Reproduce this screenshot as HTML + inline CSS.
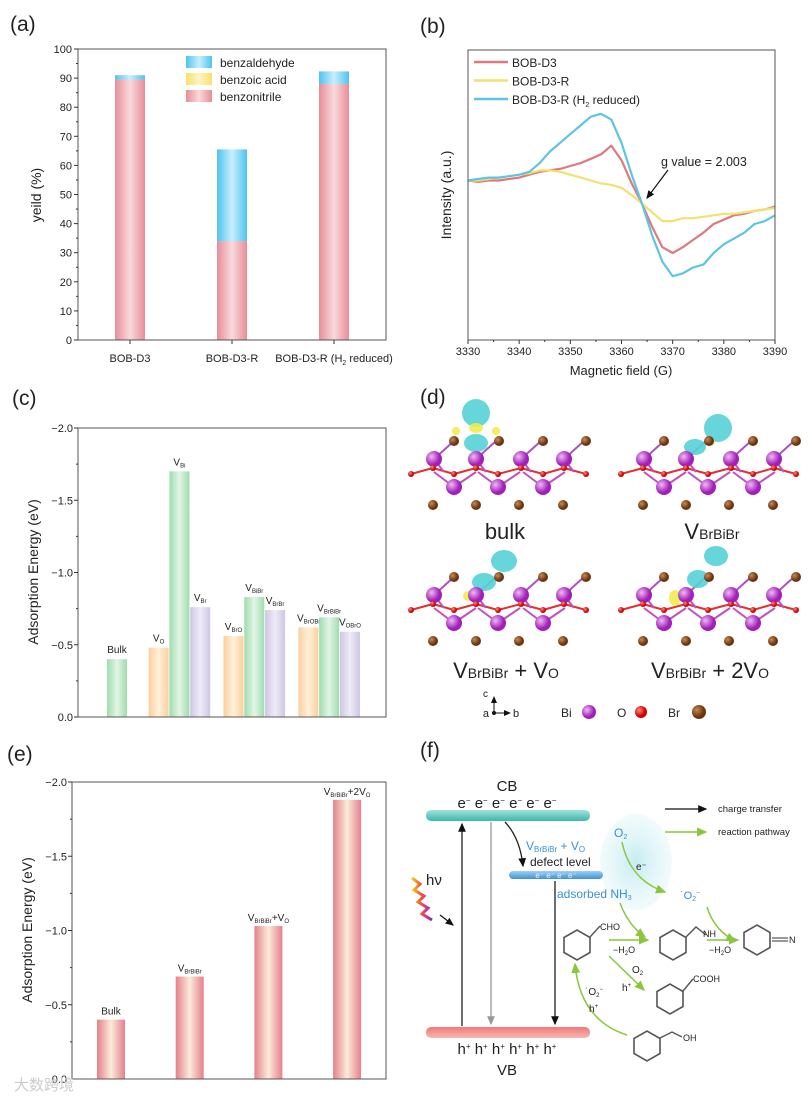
<!DOCTYPE html>
<html><head><meta charset="utf-8"><style>
body{margin:0;background:#fff}
svg{display:block;font-family:"Liberation Sans","Noto Sans CJK SC",sans-serif}
</style></head><body>
<svg id="fig" width="812" height="1104" viewBox="0 0 812 1104">
<defs>
<linearGradient id="gPink" x1="0" x2="1"><stop offset="0" stop-color="#e78d97"/><stop offset="0.5" stop-color="#f8dadd"/><stop offset="1" stop-color="#e78d97"/></linearGradient>
<linearGradient id="gBlue" x1="0" x2="1"><stop offset="0" stop-color="#4cc4ef"/><stop offset="0.5" stop-color="#c9eefc"/><stop offset="1" stop-color="#4cc4ef"/></linearGradient>
<linearGradient id="gYel" x1="0" x2="1"><stop offset="0" stop-color="#f6e06a"/><stop offset="0.5" stop-color="#fdf5c4"/><stop offset="1" stop-color="#f6e06a"/></linearGradient>
<linearGradient id="gGreen" x1="0" x2="1"><stop offset="0" stop-color="#9fdcae"/><stop offset="0.5" stop-color="#e2f6e6"/><stop offset="1" stop-color="#9fdcae"/></linearGradient>
<linearGradient id="gOrange" x1="0" x2="1"><stop offset="0" stop-color="#fbcf9f"/><stop offset="0.5" stop-color="#fff1d9"/><stop offset="1" stop-color="#fbcf9f"/></linearGradient>
<linearGradient id="gPurple" x1="0" x2="1"><stop offset="0" stop-color="#cfc6e4"/><stop offset="0.5" stop-color="#efebf7"/><stop offset="1" stop-color="#cfc6e4"/></linearGradient>
<linearGradient id="gE" x1="0" x2="1"><stop offset="0" stop-color="#e57f8c"/><stop offset="0.5" stop-color="#fbecd9"/><stop offset="1" stop-color="#e57f8c"/></linearGradient>
<linearGradient id="gCB" x1="0" y1="0" x2="0" y2="1"><stop offset="0" stop-color="#9fe3dc"/><stop offset="1" stop-color="#3fb6ac"/></linearGradient>
<linearGradient id="gVB" x1="0" y1="0" x2="0" y2="1"><stop offset="0" stop-color="#f07a78"/><stop offset="1" stop-color="#f6b6b2"/></linearGradient>
<linearGradient id="gDL" x1="0" y1="0" x2="0" y2="1"><stop offset="0" stop-color="#9fd0f3"/><stop offset="1" stop-color="#3f92d6"/></linearGradient>
<linearGradient id="gHv" x1="0" x2="1"><stop offset="0" stop-color="#f5d020"/><stop offset="0.4" stop-color="#f0602a"/><stop offset="0.7" stop-color="#e0308a"/><stop offset="1" stop-color="#6a3aa8"/></linearGradient>
<radialGradient id="gBlob"><stop offset="0" stop-color="#c6ecf2"/><stop offset="1" stop-color="#eaf8fa" stop-opacity="0.6"/></radialGradient>
<radialGradient id="gBi" cx="0.35" cy="0.35"><stop offset="0" stop-color="#f2b8f5"/><stop offset="1" stop-color="#a020b8"/></radialGradient>
<radialGradient id="gO" cx="0.35" cy="0.35"><stop offset="0" stop-color="#ff8a80"/><stop offset="1" stop-color="#d00000"/></radialGradient>
<radialGradient id="gBr" cx="0.35" cy="0.35"><stop offset="0" stop-color="#c88a55"/><stop offset="1" stop-color="#6a3510"/></radialGradient>
<marker id="mk" markerWidth="8" markerHeight="8" refX="6" refY="3" orient="auto"><path d="M0,0 L7,3 L0,6 Z" fill="#111"/></marker>
<marker id="mkG" markerWidth="8" markerHeight="8" refX="6" refY="3" orient="auto"><path d="M0,0 L7,3 L0,6 Z" fill="#8cc63f"/></marker>
<marker id="mkGr" markerWidth="8" markerHeight="8" refX="6" refY="3" orient="auto"><path d="M0,0 L7,3 L0,6 Z" fill="#999"/></marker>
</defs>
<g id="pa"></g>
<g id="pb"></g>
<g id="pc"></g>
<g id="pd"></g>
<g id="pe"></g>
<g id="pf"></g>
<text x="14" y="1090" font-size="15" fill="#ccc">大数跨境</text>
</svg>
<script>
// ---- panel a data ----
const aCats = ["BOB-D3", "BOB-D3-R", "BOB-D3-R (H2 reduced)"];
const aNitrile = [89.5, 34, 88];
const aBenzoic = [0, 0, 0];
const aAldehyde = [1.5, 31.5, 4.3];
const aTicks = [0,10,20,30,40,50,60,70,80,90,100];
// ---- panel b data ----
const bField = [3330,3332,3334,3336,3338,3340,3342,3344,3346,3348,3350,3352,3354,3356,3358,3360,3362,3364,3366,3368,3370,3372,3374,3376,3378,3380,3382,3384,3386,3388,3390];
const bD3 = [55,54.5,55,55,55.5,56,57,58,58.5,59,60,61,62.5,64,67,62,54,47,39,32,30,32,34.5,37,40,41.5,43,43.5,44.5,45,46];
const bD3R = [55,55,55.5,56,56.5,57,57.5,58.5,58.5,58,57,56,55,54,53.5,52.5,50,47,44,41,41,42,42,42.5,43,43.5,43.5,44,44.5,45,45.5];
const bD3RH2 = [55,55.5,56,56,56.5,57,58,61,65,68,71,74,77,78,76,68,57,47,36,27,22,23,25,26,30,33,35,37,40,41,43];
const bTicks = [3330,3340,3350,3360,3370,3380,3390];
// ---- panel c data ----
const cLabels = ["Bulk","V_O","V_Bi","V_Br","V_BrO","V_BiBr","V_BrBr","V_BrOBi","V_BrBiBr","V_OBrO"];
const cSlots = [1,3,4,5,6.6,7.6,8.6,10.2,11.2,12.2];
const cValues = [0.40,0.48,1.70,0.76,0.56,0.83,0.74,0.62,0.69,0.59];
const cColors = ["gGreen","gOrange","gGreen","gPurple","gOrange","gGreen","gPurple","gOrange","gGreen","gPurple"];
const cTicks = [0,0.5,1.0,1.5,2.0];
// ---- panel e data ----
const eLabels = ["Bulk","V_BrBiBr","V_BrBiBr+V_O","V_BrBiBr+2V_O"];
const eValues = [0.40,0.69,1.03,1.88];
const eTicks = [0,0.5,1.0,1.5,2.0];

const NS="http://www.w3.org/2000/svg";
function mk(tag, attrs, parent, name){
  const el=document.createElementNS(NS,tag);
  for(const k in attrs) el.setAttribute(k,attrs[k]);
  
  
  parent.appendChild(el); return el;
}
function txt(x,y,s,size,parent,name,anchor,fill,extra){
  const t=mk('text',Object.assign({x:x,y:y,'font-size':size,'text-anchor':anchor||'start',fill:fill||'#222'},extra||{}),parent,name);
  t.innerHTML=s; return t;
}
function sub(base,s,size){return base+'<tspan font-size="'+(size*0.6)+'" dy="3">'+s+'</tspan><tspan dy="-3"></tspan>';}

// ================= PANEL A =================
(function(){
  const g=document.getElementById('pa');
  const L=78,R=386,T=49,B=340;
  const y=v=>B-(v/100)*(B-T);
  const xc=i=>130+i*102;
  txt(10,31,'(a)',21,g,'panel-a-label');
  for(let i=0;i<3;i++){
    const w=30, x=xc(i)-w/2;
    let base=0;
    mk('rect',{x:x,y:y(aNitrile[i]),width:w,height:y(0)-y(aNitrile[i]),fill:'url(#gPink)'},g,'bar-benzonitrile');
    base=aNitrile[i];
    if(aBenzoic[i]>0) mk('rect',{x:x,y:y(base+aBenzoic[i]),width:w,height:y(base)-y(base+aBenzoic[i]),fill:'url(#gYel)'},g,'bar-benzoic-acid');
    base+=aBenzoic[i];
    mk('rect',{x:x,y:y(base+aAldehyde[i]),width:w,height:y(base)-y(base+aAldehyde[i]),fill:'url(#gBlue)'},g,'bar-benzaldehyde');
    mk('line',{x1:xc(i),x2:xc(i),y1:B,y2:B+4,stroke:'#333'},g,'x-tick');
    const lab=aCats[i]==="BOB-D3-R (H2 reduced)"?'BOB-D3-R (H<tspan font-size="7" dy="3">2</tspan><tspan dy="-3"> reduced)</tspan>':aCats[i];
    txt(xc(i),362,lab,11,g,'x-tick-label','middle');
  }
  mk('rect',{x:L,y:T,width:R-L,height:B-T,fill:'none',stroke:'#555','stroke-width':1},g,'plot-frame');
  aTicks.forEach(v=>{
    mk('line',{x1:L-4,x2:L,y1:y(v),y2:y(v),stroke:'#333'},g,'y-tick');
    txt(L-6,y(v)+4,v,11,g,'y-tick-label','end');
    if(v<100) mk('line',{x1:L-2,x2:L,y1:y(v+5),y2:y(v+5),stroke:'#333'},g,'y-minor-tick');
  });
  txt(0,0,'yeild (%)',14,g,'y-axis-title','middle','#222',{transform:'translate(41,195) rotate(-90)'});
  const leg=[['benzaldehyde','gBlue'],['benzoic acid','gYel'],['benzonitrile','gPink']];
  leg.forEach((d,i)=>{
    mk('rect',{x:186,y:56+i*17,width:26,height:12,fill:'url(#'+d[1]+')'},g,'legend-swatch');
    txt(220,67+i*17,d[0],12,g,'legend-entry');
  });
})();

// ================= PANEL B =================
(function(){
  const g=document.getElementById('pb');
  const L=468,R=775,T=50,B=340;
  const x=v=>L+(v-3330)/60*(R-L);
  const y=v=>B-v/100*(B-T);
  txt(420,33,'(b)',21,g,'panel-b-label');
  const ser=[[bD3,'#e07880','BOB-D3'],[bD3R,'#f2e070','BOB-D3-R'],[bD3RH2,'#5fc4e4','BOB-D3-R (H<tspan font-size="7" dy="3">2</tspan><tspan dy="-3"> reduced)</tspan>']];
  ser.forEach((s,k)=>{
    const d=bField.map((f,i)=>(i?'L':'M')+x(f).toFixed(1)+','+y(s[0][i]).toFixed(1)).join('');
    mk('path',{d:d,fill:'none',stroke:s[1],'stroke-width':2.2,'stroke-linejoin':'round'},g,'series-line');
    mk('line',{x1:474,x2:508,y1:62+k*18.5,y2:62+k*18.5,stroke:s[1],'stroke-width':2.5},g,'legend-line');
    txt(512,67+k*18.5,s[2],12,g,'legend-entry');
  });
  mk('rect',{x:L,y:T,width:R-L,height:B-T,fill:'none',stroke:'#555'},g,'plot-frame');
  bTicks.forEach(v=>{
    mk('line',{x1:x(v),x2:x(v),y1:B,y2:B+4,stroke:'#333'},g,'x-tick');
    txt(x(v),355,v,11,g,'x-tick-label','middle');
    if(v<3390) mk('line',{x1:x(v+5),x2:x(v+5),y1:B,y2:B+2,stroke:'#333'},g,'x-minor-tick');
  });
  txt(621,375,'Magnetic field (G)',13,g,'x-axis-title','middle');
  txt(0,0,'Intensity (a.u.)',14,g,'y-axis-title','middle','#222',{transform:'translate(451,195) rotate(-90)'});
  txt(661,166,'g value = 2.003',12.5,g,'g-value-annotation');
  mk('line',{x1:668,y1:170,x2:647,y2:198,stroke:'#111','stroke-width':1.2,'marker-end':'url(#mk)'},g,'annotation-arrow');
})();

// ================= PANEL C =================
(function(){
  const g=document.getElementById('pc');
  const L=78,R=386,T=428,B=717;
  const y=v=>B-v/2*(B-T);
  const x=s=>L+18+(s-1)*20.8+21;
  txt(12,405,'(c)',21,g,'panel-c-label');
  cValues.forEach((v,i)=>{
    const cx=x(cSlots[i]);
    mk('rect',{x:cx-10,y:y(v),width:20,height:B-y(v),fill:'url(#'+cColors[i]+')'},g,'bar-'+cLabels[i].toLowerCase().replace('_','-'));
    const p=cLabels[i].split('_');
    const lab=p.length>1?'V<tspan font-size="6" dy="2">'+p[1]+'</tspan>':p[0];
    txt(cx,y(v)-6,lab,10,g,'bar-label','middle');
  });
  mk('rect',{x:L,y:T,width:R-L,height:B-T,fill:'none',stroke:'#555'},g,'plot-frame');
  cTicks.forEach(v=>{
    mk('line',{x1:L-4,x2:L,y1:y(v),y2:y(v),stroke:'#333'},g,'y-tick');
    txt(L-5,y(v)+4,v===0?'0.0':'\u2212'+v.toFixed(1),11,g,'y-tick-label','end');
    if(v<2) mk('line',{x1:L-2,x2:L,y1:y(v+0.25),y2:y(v+0.25),stroke:'#333'},g,'y-minor-tick');
  });
  txt(0,0,'Adsorption Energy (eV)',14,g,'y-axis-title','middle','#222',{transform:'translate(38,572) rotate(-90)'});
})();

// ================= PANEL E =================
(function(){
  const g=document.getElementById('pe');
  const L=72,R=386,T=782,B=1079;
  const y=v=>B-v/2*(B-T);
  const x=i=>111+i*78.7;
  txt(7,761,'(e)',21,g,'panel-e-label');
  eValues.forEach((v,i)=>{
    mk('rect',{x:x(i)-14,y:y(v),width:28,height:B-y(v),fill:'url(#gE)'},g,'bar-'+i);
    let lab=eLabels[i];
    if(lab!=='Bulk'){
      lab='V<tspan font-size="6" dy="2">BrBiBr</tspan><tspan dy="-2">'+(lab.indexOf('+2')>0?'+2V<tspan font-size="6" dy="2">O</tspan>':lab.indexOf('+V')>0?'+V<tspan font-size="6" dy="2">O</tspan>':'')+'</tspan>';
    }
    txt(x(i),y(v)-5,lab,10,g,'bar-label','middle');
  });
  mk('rect',{x:L,y:T,width:R-L,height:B-T,fill:'none',stroke:'#555'},g,'plot-frame');
  eTicks.forEach(v=>{
    mk('line',{x1:L-4,x2:L,y1:y(v),y2:y(v),stroke:'#333'},g,'y-tick');
    txt(L-5,y(v)+4,v===0?'0.0':'\u2212'+v.toFixed(1),11,g,'y-tick-label','end');
    if(v<2) mk('line',{x1:L-2,x2:L,y1:y(v+0.25),y2:y(v+0.25),stroke:'#333'},g,'y-minor-tick');
  });
  txt(0,0,'Adsorption Energy (eV)',14,g,'y-axis-title','middle','#222',{transform:'translate(32,930) rotate(-90)'});
})();

// ================= PANEL D =================
(function(){
  const g=document.getElementById('pd');
  txt(420,404,'(d)',21,g,'panel-d-label');
  function structure(ox,oy,blobs,name){
    const s=mk('g',{transform:'translate('+ox+','+oy+')'},g,name);
    const brT=[454,499,543,586], biU=[434,476,521,564], biL=[454,498,543], brB=[433,476,519,563];
    const oX=[411,433,454,476,498,521,543,564,586];
    // bonds
    for(let i=0;i<oX.length-1;i++) mk('line',{x1:oX[i],y1:(i%2?468:474),x2:oX[i+1],y2:((i+1)%2?468:474),stroke:'#e03030','stroke-width':2},s,'bond');
    biU.forEach((bx,i)=>{mk('line',{x1:bx,y1:459,x2:bx+20,y2:441,stroke:'#b050c0','stroke-width':2},s,'bond');mk('line',{x1:bx,y1:459,x2:bx+10,y2:472,stroke:'#c050c0','stroke-width':2},s,'bond');});
    biL.forEach(bx=>{mk('line',{x1:bx,y1:487,x2:bx-20,y2:472,stroke:'#c050c0','stroke-width':2},s,'bond');mk('line',{x1:bx,y1:487,x2:bx+22,y2:472,stroke:'#c050c0','stroke-width':2},s,'bond');});
    blobs.forEach(b=>mk('ellipse',{cx:b[0],cy:b[1],rx:b[2],ry:b[3],fill:b[4]||'#55d2d6',opacity:0.9},s,'charge-density'));
    brT.forEach(bx=>mk('circle',{cx:bx,cy:441,r:5,fill:'url(#gBr)'},s,'br-atom'));
    biU.forEach(bx=>mk('circle',{cx:bx,cy:459,r:8,fill:'url(#gBi)'},s,'bi-atom'));
    oX.forEach((ox2,i)=>mk('circle',{cx:ox2,cy:(i%2?468:474),r:3,fill:'url(#gO)'},s,'o-atom'));
    biL.forEach(bx=>mk('circle',{cx:bx,cy:487,r:8,fill:'url(#gBi)'},s,'bi-atom'));
    brB.forEach(bx=>mk('circle',{cx:bx,cy:505,r:5,fill:'url(#gBr)'},s,'br-atom'));
  }
  structure(0,0,[[476,413,14,14],[476,443,12,9],[476,428,7,5,'#f0ec50'],[456,431,4,4,'#f0ec50'],[496,431,4,4,'#f0ec50']],'structure-bulk');
  structure(210,0,[[508,428,14,14],[485,447,11,8],[500,442,5,4,'#f0ec50']],'structure-vbrbibr');
  structure(0,136,[[504,425,13,11],[484,446,12,9],[468,460,5,5,'#f0ec50']],'structure-vbrbibr-vo');
  structure(210,136,[[506,420,12,10],[488,443,11,9],[465,462,6,8,'#f0ec50']],'structure-vbrbibr-2vo');
  txt(505,539,'bulk',22,g,'label-bulk','middle');
  txt(712,539,'V<tspan font-size="14">BrBiBr</tspan>',22,g,'label-vbrbibr','middle');
  txt(506,678,'V<tspan font-size="14">BrBiBr</tspan> + V<tspan font-size="14">O</tspan>',22,g,'label-vbrbibr-vo','middle');
  txt(710,678,'V<tspan font-size="14">BrBiBr</tspan> + 2V<tspan font-size="14">O</tspan>',22,g,'label-vbrbibr-2vo','middle');
  mk('line',{x1:494,y1:713,x2:494,y2:697,stroke:'#111','marker-end':'url(#mk)'},g,'axis-c');
  mk('line',{x1:494,y1:713,x2:510,y2:713,stroke:'#111','marker-end':'url(#mk)'},g,'axis-b');
  mk('circle',{cx:494,cy:713,r:2,fill:'#111'},g,'axis-a');
  txt(488,697,'c',10,g,'axis-c-label','end');
  txt(489,717,'a',11,g,'axis-a-label','end');
  txt(513,717,'b',11,g,'axis-b-label');
  txt(561,717,'Bi',12,g,'legend-bi');
  mk('circle',{cx:589,cy:712,r:7,fill:'url(#gBi)'},g,'legend-bi-atom');
  txt(617,717,'O',12,g,'legend-o');
  mk('circle',{cx:641,cy:712,r:6,fill:'url(#gO)'},g,'legend-o-atom');
  txt(668,717,'Br',12,g,'legend-br');
  mk('circle',{cx:699,cy:712,r:7,fill:'url(#gBr)'},g,'legend-br-atom');
})();

// ================= PANEL F =================
(function(){
  const g=document.getElementById('pf');
  txt(420,757,'(f)',21,g,'panel-f-label');
  function ring(cx,cy,r,name){
    let d='';for(let i=0;i<6;i++){const a=Math.PI/6+i*Math.PI/3;d+=(i?'L':'M')+(cx+r*Math.cos(a)).toFixed(1)+','+(cy+r*Math.sin(a)).toFixed(1);}
    mk('path',{d:d+'Z',fill:'none',stroke:'#555','stroke-width':1.6},g,name);
  }
  mk('ellipse',{cx:636,cy:862,rx:36,ry:48,fill:'url(#gBlob)'},g,'adsorption-region');
  mk('rect',{x:426,y:810,width:164,height:11,rx:5,fill:'url(#gCB)'},g,'conduction-band');
  mk('rect',{x:426,y:1027,width:164,height:11,rx:5,fill:'url(#gVB)'},g,'valence-band');
  mk('rect',{x:509,y:871,width:94,height:8,rx:4,fill:'url(#gDL)'},g,'defect-level');
  txt(507,791,'CB',15,g,'cb-label','middle');
  txt(507,808,'e<tspan font-size="8" dy="-5">\u2212</tspan><tspan dy="5"> e</tspan><tspan font-size="8" dy="-5">\u2212</tspan><tspan dy="5"> e</tspan><tspan font-size="8" dy="-5">\u2212</tspan><tspan dy="5"> e</tspan><tspan font-size="8" dy="-5">\u2212</tspan><tspan dy="5"> e</tspan><tspan font-size="8" dy="-5">\u2212</tspan><tspan dy="5"> e</tspan><tspan font-size="8" dy="-5">\u2212</tspan>',15,g,'electrons','middle');
  txt(507,1054,'h<tspan font-size="8" dy="-5">+</tspan><tspan dy="5"> h</tspan><tspan font-size="8" dy="-5">+</tspan><tspan dy="5"> h</tspan><tspan font-size="8" dy="-5">+</tspan><tspan dy="5"> h</tspan><tspan font-size="8" dy="-5">+</tspan><tspan dy="5"> h</tspan><tspan font-size="8" dy="-5">+</tspan><tspan dy="5"> h</tspan><tspan font-size="8" dy="-5">+</tspan>',15,g,'holes','middle');
  txt(507,1075,'VB',15,g,'vb-label','middle');
  txt(556,878,'e\u207B e\u207B e\u207B e\u207B',8,g,'defect-electrons','middle','#eaf4ff');
  mk('line',{x1:462,y1:1026,x2:462,y2:824,stroke:'#222','stroke-width':1.3,'marker-end':'url(#mk)'},g,'excitation-arrow');
  mk('line',{x1:491,y1:822,x2:491,y2:1024,stroke:'#999','stroke-width':1.3,'marker-end':'url(#mkGr)'},g,'recombination-arrow');
  mk('path',{d:'M505,822 Q520,838 523,866',fill:'none',stroke:'#222','stroke-width':1.3,'marker-end':'url(#mk)'},g,'trap-arrow');
  mk('line',{x1:555,y1:881,x2:555,y2:1024,stroke:'#222','stroke-width':1.3,'marker-end':'url(#mk)'},g,'defect-recombination-arrow');
  txt(526,850,'V<tspan font-size="8" dy="2">BrBiBr</tspan><tspan dy="-2"> + V</tspan><tspan font-size="8" dy="2">O</tspan>',12,g,'defect-label','start','#3a8fd6');
  txt(530,866,'defect level',12,g,'defect-level-label');
  txt(557,898,'adsorbed NH<tspan font-size="7" dy="2">3</tspan>',12,g,'adsorbed-nh3','start','#3a8fd6');
  // hv
  mk('path',{d:'M412,878 l8,6 l-6,6 l10,6 l-6,6 l10,6 l-6,6 l10,6',fill:'none',stroke:'url(#gHv)','stroke-width':3},g,'photon-wave');
  mk('line',{x1:440,y1:915,x2:453,y2:925,stroke:'#111','stroke-width':1.2,'marker-end':'url(#mk)'},g,'photon-arrow');
  txt(426,885,'h\u03BD',15,g,'hv-label');
  // legend
  mk('line',{x1:665,y1:809,x2:706,y2:809,stroke:'#111','stroke-width':1.3,'marker-end':'url(#mk)'},g,'legend-charge-line');
  txt(718,812,'charge transfer',9.5,g,'legend-charge-transfer');
  mk('line',{x1:665,y1:832,x2:706,y2:832,stroke:'#8cc63f','stroke-width':1.5,'marker-end':'url(#mkG)'},g,'legend-reaction-line');
  txt(718,835,'reaction pathway',9.5,g,'legend-reaction-pathway');
  // reaction
  txt(614,837,'O<tspan font-size="7" dy="2">2</tspan>',12,g,'o2-label','start','#3a8fd6');
  mk('path',{d:'M622,842 Q630,880 665,892',fill:'none',stroke:'#8cc63f','stroke-width':1.5,'marker-end':'url(#mkG)'},g,'o2-reduction-arrow');
  txt(636,870,'e\u207B',10,g,'electron-label');
  txt(680,899,'\u02D9O<tspan font-size="7" dy="2">2</tspan><tspan font-size="7" dy="-6">\u2212</tspan>',11,g,'superoxide-label','start','#3a8fd6');
  mk('path',{d:'M707,907 Q714,930 735,941',fill:'none',stroke:'#8cc63f','stroke-width':1.5,'marker-end':'url(#mkG)'},g,'superoxide-arrow');
  mk('path',{d:'M620,903 Q628,925 645,937',fill:'none',stroke:'#8cc63f','stroke-width':1.5,'marker-end':'url(#mkG)'},g,'nh3-arrow');
  ring(577,945,15,'benzaldehyde-ring');
  mk('line',{x1:590,y1:937,x2:600,y2:926,stroke:'#555','stroke-width':1.4},g,'bond');
  txt(600,930,'CHO',9,g,'cho-label');
  mk('line',{x1:609,y1:940,x2:648,y2:940,stroke:'#8cc63f','stroke-width':1.5,'marker-end':'url(#mkG)'},g,'imine-arrow');
  txt(613,953,'\u2212H<tspan font-size="6" dy="2">2</tspan><tspan dy="-2">O</tspan>',9,g,'water-label');
  ring(673,945,15,'imine-ring');
  mk('path',{d:'M686,937 L696,927 L706,935',fill:'none',stroke:'#555','stroke-width':1.4},g,'bond');
  txt(703,937,'NH',9,g,'nh-label');
  mk('line',{x1:707,y1:940,x2:738,y2:940,stroke:'#8cc63f','stroke-width':1.5,'marker-end':'url(#mkG)'},g,'nitrile-arrow');
  txt(709,953,'\u2212H<tspan font-size="6" dy="2">2</tspan><tspan dy="-2">O</tspan>',9,g,'water-label-2');
  ring(757,940,15,'nitrile-ring');
  mk('line',{x1:772,y1:938,x2:788,y2:938,stroke:'#555','stroke-width':1.2},g,'bond');
  mk('line',{x1:772,y1:941,x2:788,y2:941,stroke:'#555','stroke-width':1.2},g,'bond');
  txt(789,943,'N',9,g,'n-label');
  mk('line',{x1:609,y1:956,x2:644,y2:990,stroke:'#8cc63f','stroke-width':1.5,'marker-end':'url(#mkG)'},g,'oxidation-arrow');
  txt(632,973,'O<tspan font-size="6" dy="2">2</tspan>',10,g,'o2-label-2');
  txt(622,991,'h<tspan font-size="6" dy="-4">+</tspan>',10,g,'hole-label');
  ring(670,999,15,'benzoic-ring');
  mk('line',{x1:683,y1:991,x2:693,y2:979,stroke:'#555','stroke-width':1.4},g,'bond');
  txt(693,982,'COOH',9,g,'cooh-label');
  ring(647,1046,15,'benzyl-alcohol-ring');
  mk('path',{d:'M660,1038 L672,1032 L682,1037',fill:'none',stroke:'#555','stroke-width':1.4},g,'bond');
  txt(683,1041,'OH',9,g,'oh-label');
  mk('path',{d:'M627,1035 Q580,1020 575,964',fill:'none',stroke:'#8cc63f','stroke-width':1.5,'marker-end':'url(#mkG)'},g,'alcohol-oxidation-arrow');
  txt(585,995,'\u02D9O<tspan font-size="6" dy="2">2</tspan><tspan font-size="6" dy="-6">\u2212</tspan>',10,g,'superoxide-label-2');
  txt(589,1012,'h<tspan font-size="6" dy="-4">+</tspan>',10,g,'hole-label-2');
})();
</script>
</body></html>
